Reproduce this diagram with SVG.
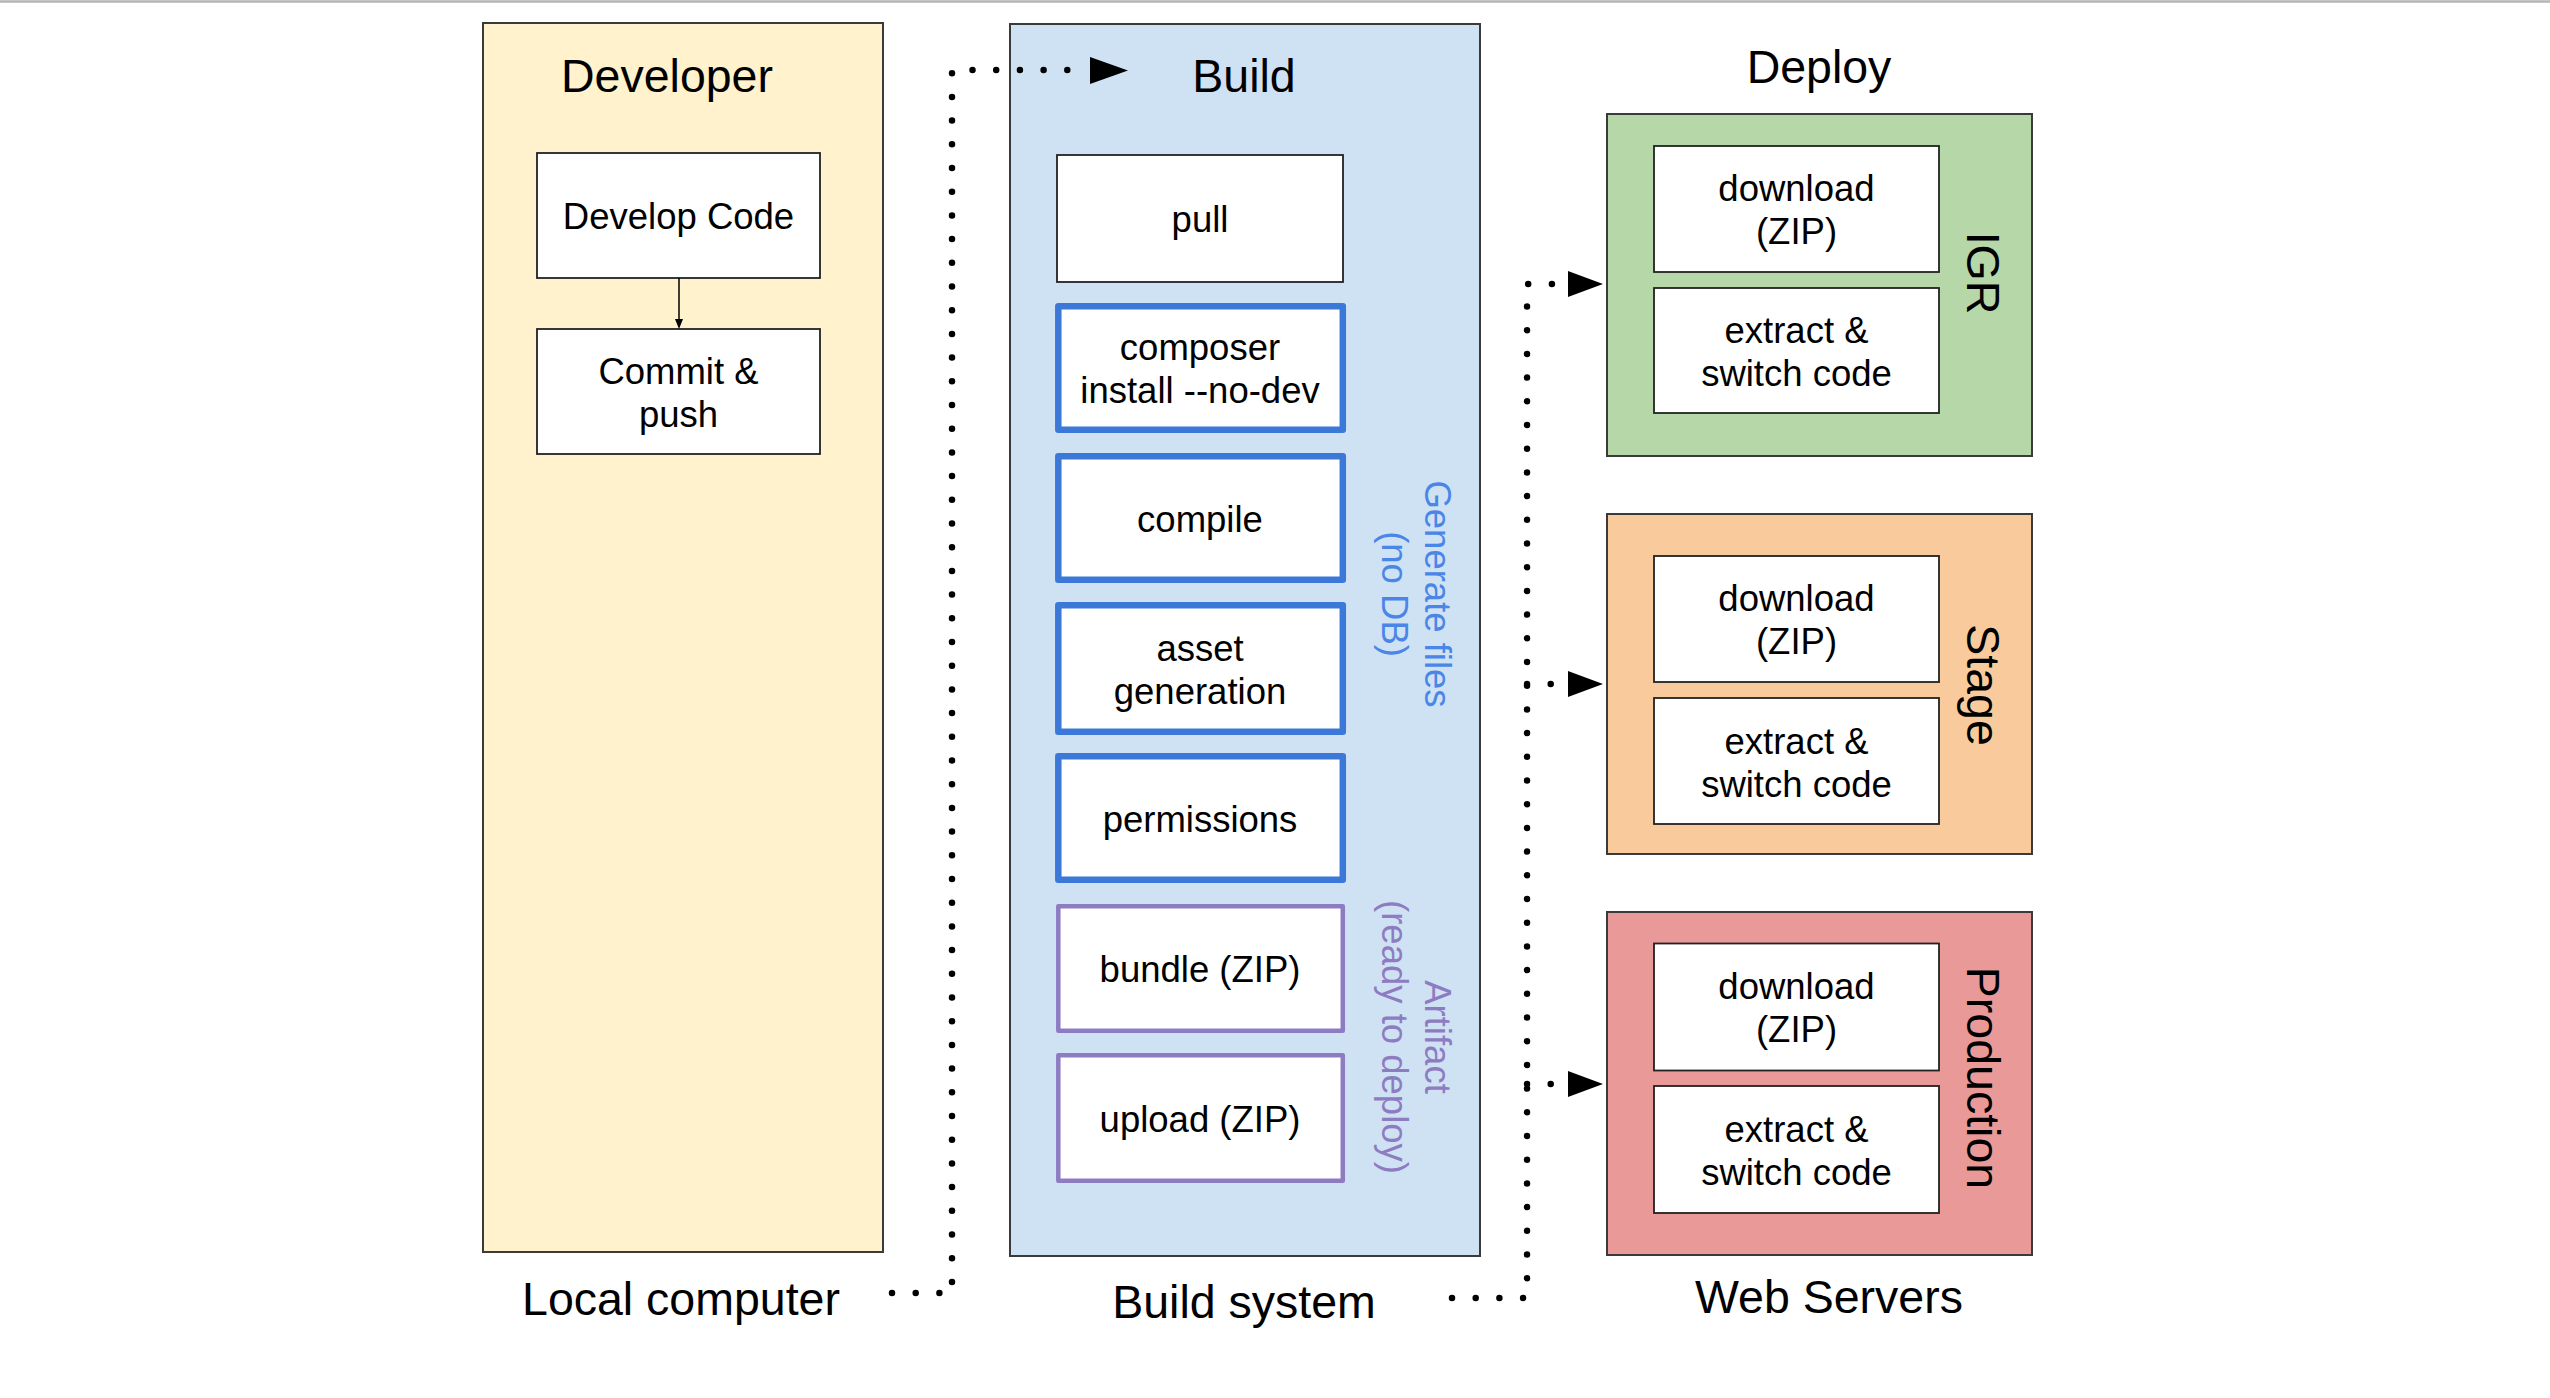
<svg xmlns="http://www.w3.org/2000/svg" width="2550" height="1398" viewBox="0 0 2550 1398">
<style>
text{font-family:"Liberation Sans",Arial,sans-serif;fill:#000}
.title{font-size:46.5px;text-anchor:middle}
.bt{font-size:36.5px;text-anchor:middle}
.panel{stroke:#3a3a3a;stroke-width:2}
.wbox{fill:#fff;stroke:#222;stroke-width:1.8}
.bbox{fill:#fff;stroke:#3c78d8;stroke-width:6.5;stroke-linejoin:round}
.pbox{fill:#fff;stroke:#8e7cc3;stroke-width:4.5;stroke-linejoin:round}
.dot{fill:none;stroke:#000;stroke-width:6.5;stroke-linecap:round;stroke-dasharray:0 23.7}
.side{font-size:36.5px;text-anchor:middle}
</style>
<rect width="2550" height="1398" fill="#fff"/>
<line x1="0" y1="1.5" x2="2550" y2="1.5" stroke="#b5b5b5" stroke-width="2.5"/>

<g id="developer">
<rect class="panel" x="483" y="23" width="400" height="1229" fill="#fff2cc"/>
<text class="title" x="667" y="92">Developer</text>
<text class="title" x="681" y="1315">Local computer</text>
</g>
<g id="develop-code">
<rect class="wbox" x="537" y="153" width="283" height="125"/>
<text class="bt" x="678.5" y="229">Develop Code</text>
</g>
<g id="commit-push">
<rect class="wbox" x="537" y="329" width="283" height="125"/>
<text class="bt" x="678.5" y="383.5">Commit &amp;</text>
<text class="bt" x="678.5" y="426.5">push</text>
</g>

<g id="build">
<rect class="panel" x="1010" y="24" width="470" height="1232" fill="#cfe2f3" stroke="#4a4a4a"/>
<text class="title" x="1244" y="92">Build</text>
<text class="title" x="1244" y="1318">Build system</text>
<g transform="translate(1425,594) rotate(90)">
<text class="side" x="0" y="0" style="fill:#4a86e8">Generate files</text>
<text class="side" x="0" y="43" style="fill:#4a86e8">(no DB)</text>
</g>
<g transform="translate(1425,1037) rotate(90)">
<text class="side" x="0" y="0" style="fill:#8e7cc3">Artifact</text>
<text class="side" x="0" y="43" style="fill:#8e7cc3">(ready to deploy)</text>
</g>
</g>
<g id="pull">
<rect class="wbox" x="1057" y="155" width="286" height="127"/>
<text class="bt" x="1200" y="232">pull</text>
</g>
<g id="composer">
<rect class="bbox" x="1058.3" y="306.3" width="284.5" height="123.5"/>
<text class="bt" x="1200" y="360">composer</text>
<text class="bt" x="1200" y="403">install --no-dev</text>
</g>
<g id="compile">
<rect class="bbox" x="1058.3" y="456.3" width="284.5" height="123.5"/>
<text class="bt" x="1200" y="531.5">compile</text>
</g>
<g id="asset-generation">
<rect class="bbox" x="1058.3" y="605.3" width="284.5" height="126.5"/>
<text class="bt" x="1200" y="660.5">asset</text>
<text class="bt" x="1200" y="703.5">generation</text>
</g>
<g id="permissions">
<rect class="bbox" x="1058.3" y="756.3" width="284.5" height="123.5"/>
<text class="bt" x="1200" y="831.5">permissions</text>
</g>
<g id="bundle">
<rect class="pbox" x="1058.3" y="906.3" width="284.5" height="124.5"/>
<text class="bt" x="1200" y="982">bundle (ZIP)</text>
</g>
<g id="upload">
<rect class="pbox" x="1058.3" y="1055.3" width="284.5" height="125.5"/>
<text class="bt" x="1200" y="1131.5">upload (ZIP)</text>
</g>

<g id="deploy">
<text class="title" x="1819" y="83">Deploy</text>
<text class="title" x="1829" y="1313">Web Servers</text>
</g>
<g id="igr">
<rect class="panel" x="1607" y="114" width="425" height="342" fill="#b6d7a8"/>
<rect class="wbox" x="1654" y="146" width="285" height="126"/>
<text class="bt" x="1796.5" y="201">download</text>
<text class="bt" x="1796.5" y="244">(ZIP)</text>
<rect class="wbox" x="1654" y="288" width="285" height="125"/>
<text class="bt" x="1796.5" y="343">extract &amp;</text>
<text class="bt" x="1796.5" y="386">switch code</text>
<text class="title" transform="translate(1967,273) rotate(90)">IGR</text>
</g>
<g id="stage">
<rect class="panel" x="1607" y="514" width="425" height="340" fill="#f9cb9c"/>
<rect class="wbox" x="1654" y="556" width="285" height="126"/>
<text class="bt" x="1796.5" y="611">download</text>
<text class="bt" x="1796.5" y="654">(ZIP)</text>
<rect class="wbox" x="1654" y="698" width="285" height="126"/>
<text class="bt" x="1796.5" y="753.5">extract &amp;</text>
<text class="bt" x="1796.5" y="796.5">switch code</text>
<text class="title" transform="translate(1967,685) rotate(90)">Stage</text>
</g>
<g id="production">
<rect class="panel" x="1607" y="912" width="425" height="343" fill="#ea9999"/>
<rect class="wbox" x="1654" y="943.5" width="285" height="127"/>
<text class="bt" x="1796.5" y="999">download</text>
<text class="bt" x="1796.5" y="1042">(ZIP)</text>
<rect class="wbox" x="1654" y="1086" width="285" height="127"/>
<text class="bt" x="1796.5" y="1141.5">extract &amp;</text>
<text class="bt" x="1796.5" y="1184.5">switch code</text>
<text class="title" transform="translate(1967,1078) rotate(90)">Production</text>
</g>

<g id="connectors">
<line x1="679" y1="278" x2="679" y2="320" stroke="#000" stroke-width="1.5"/>
<polygon points="675,319 683,319 679,329" fill="#000"/>
<path class="dot" d="M892,1293 H952 V70 H1080"/>
<polygon points="1090,57 1128,70.5 1090,84" fill="#000"/>
<path class="dot" d="M1452,1298 H1527 V284 H1560"/>
<path class="dot" d="M1527,684 H1560"/>
<path class="dot" d="M1527,1084 H1560"/>
<polygon points="1568,271 1603,284 1568,297" fill="#000"/>
<polygon points="1568,671 1603,684 1568,697" fill="#000"/>
<polygon points="1568,1071 1603,1084 1568,1097" fill="#000"/>
</g>
</svg>
